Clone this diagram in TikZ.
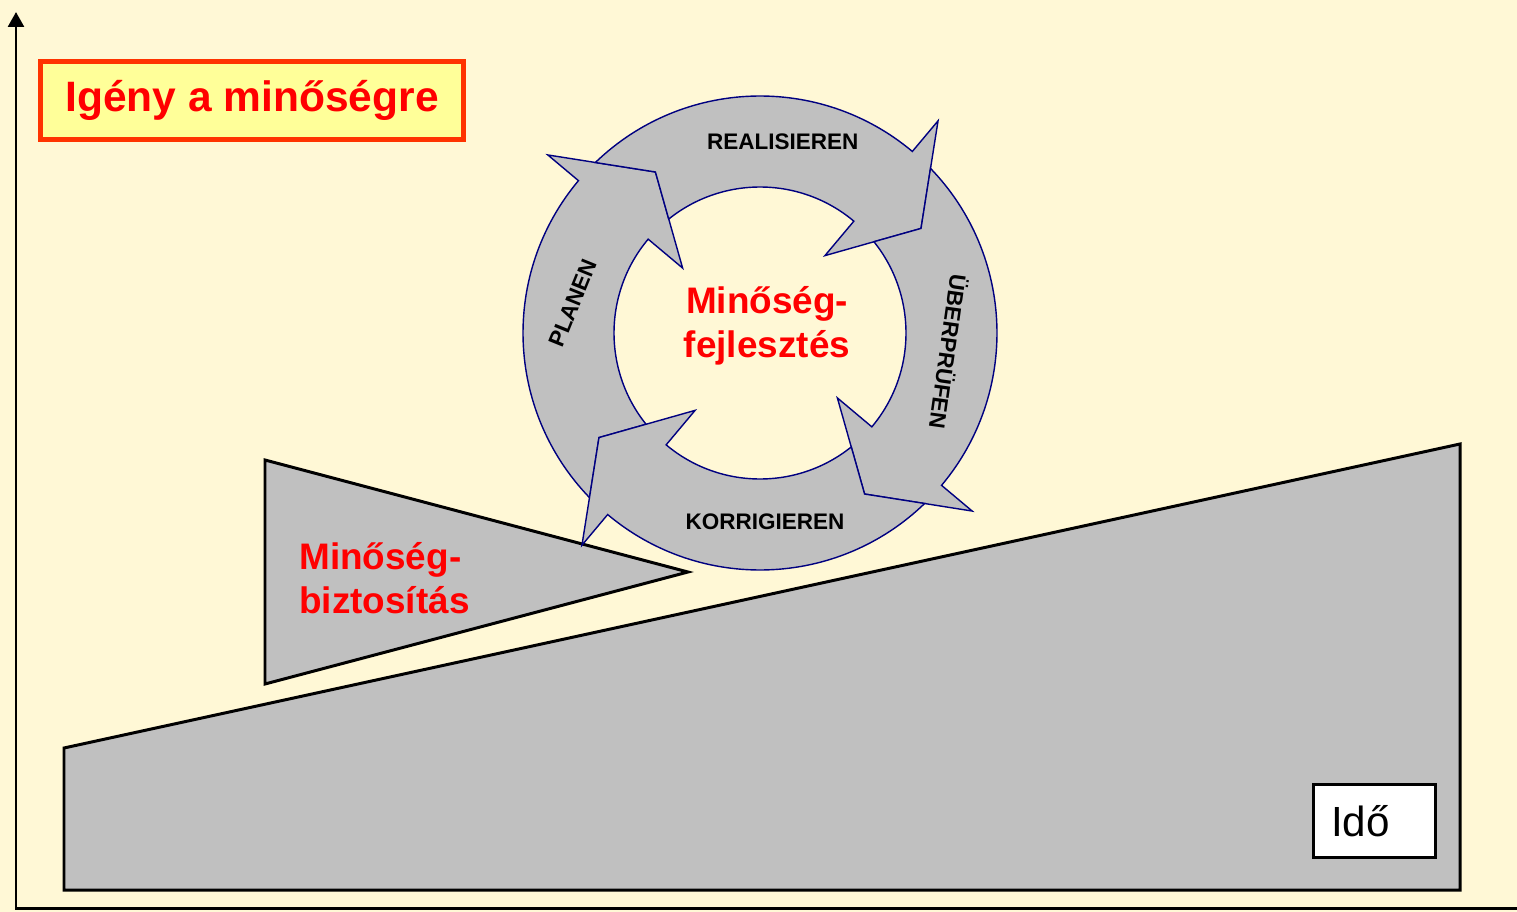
\documentclass[tikz,border=0pt]{standalone}
\usepackage{fontspec}
\setmainfont{Liberation Sans}
\usetikzlibrary{arrows.meta}
\definecolor{cream}{HTML}{FFF8D6}
\definecolor{slabgray}{HTML}{C0C0C0}
\definecolor{boxyellow}{HTML}{FFFF99}
\definecolor{boxorange}{HTML}{FF3300}
\definecolor{qred}{HTML}{FF0000}
\definecolor{ringblue}{HTML}{000080}

\begin{document}
\begin{tikzpicture}[
    x=0.2mm, y=-0.2mm,
    axis/.style={draw=black, line width=1.7pt},
    slab/.style={draw=black, line width=1.7pt, fill=slabgray},
    cyclearrow/.style={draw=ringblue, line width=0.8pt, fill=slabgray},
    steplabel/.style={font=\fontsize{12.8}{15}\selectfont\bfseries, inner sep=0pt},
    redtext/.style={text=qred, font=\fontsize{21}{24.9}\selectfont\bfseries, inner sep=0pt},
    titlebox/.style={draw=boxorange, line width=2.8pt, fill=boxyellow, text=qred,
        font=\fontsize{24.2}{28}\selectfont\bfseries, minimum width=84.6mm, minimum height=15.6mm},
    timebox/.style={draw=black, line width=1.7pt, fill=white, font=\fontsize{24}{28}\selectfont,
        minimum height=14.6mm, text width=17.4mm, inner xsep=3.5mm, align=left}
]
\useasboundingbox (0,0) rectangle (1517,912);
\fill[cream] (0,0) rectangle (1517,912);

% axes
\coordinate (origin) at (16,908);
\coordinate (ytop) at (16,12);
\coordinate (xend) at (1517,908);
\draw[axis, -{Triangle[length=8.5pt, width=9pt]}] (xend) -- (origin) -- (ytop);

% ramp and wedge
\draw[slab] (64,748) -- (1460,444) -- (1460,890) -- (64,890) -- cycle;
\draw[slab] (265,460) -- (688,572) -- (265,684) -- cycle;

% improvement cycle
\begin{scope}[shift={(760,333)}, y=0.2mm]
\foreach \b in {140,50,-40,-130}
    \draw[cyclearrow] ({\b+84}:237) arc[start angle={\b+84}, end angle=\b, radius=237]
        -- (\b:277) -- ({\b-17}:192) -- (\b:101) -- (\b:146)
        arc[start angle=\b, end angle={\b+78.7}, radius=146] -- ({\b+73}:192) -- cycle;
\node[steplabel] (realisieren) at (83.2:193) {REALISIEREN};
\node[steplabel, rotate=-98] (ueberpruefen) at (-5.7:190) {ÜBERPRÜFEN};
\node[steplabel] (korrigieren) at (-88.5:188.6) {KORRIGIEREN};
\node[steplabel, rotate=68] (planen) at (170.9:189.4) {PLANEN};
\end{scope}

\node[redtext, align=center] (fejlesztes) at (767,326) {Minőség-\\fejlesztés};
\node[redtext, align=left, anchor=west] (biztositas) at (299,578) {Minőség-\\biztosítás};

\node[titlebox] (igeny) at (252,100.5) {Igény a minőségre};
\node[timebox] (ido) at (1374.5,821) {Idő};
\end{tikzpicture}
\end{document}
